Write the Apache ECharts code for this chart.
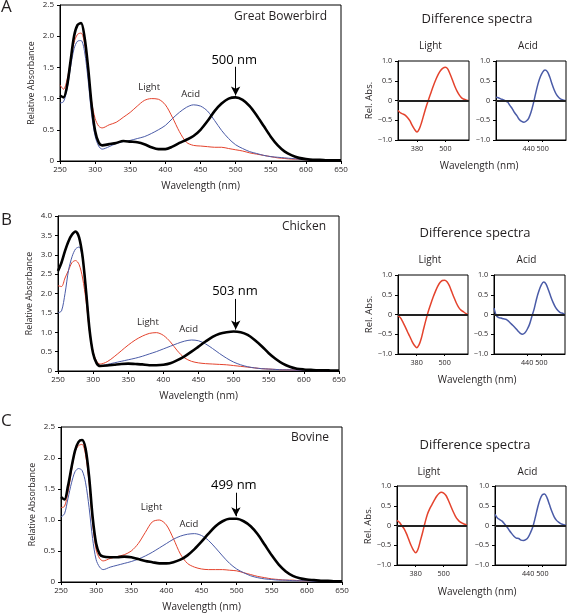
<!DOCTYPE html>
<html><head><meta charset="utf-8">
<script src="https://cdn.jsdelivr.net/npm/echarts@6/dist/echarts.min.js"></script>
<style>html,body{margin:0;padding:0;background:#fff}#c{width:567px;height:614px}</style>
</head><body><div id="c"></div>
<script>
// ---- Absorbance spectra wavelengths (nm) ----
const W = [250,255,260,265,270,275,280,285,290,295,300,305,310,320,330,340,350,360,370,380,390,400,410,420,430,440,450,460,470,480,490,500,510,520,530,540,550,560,570,580,590,600,610,620,630,640,650];

// Panel A: Great Bowerbird
const A_dark  = [1.05,1.02,1.2,1.6,2.0,2.18,2.21,1.98,1.5,0.9,0.48,0.3,0.25,0.27,0.29,0.32,0.31,0.3,0.27,0.22,0.19,0.19,0.23,0.29,0.34,0.4,0.5,0.64,0.8,0.92,1.0,1.02,0.98,0.88,0.73,0.56,0.39,0.25,0.15,0.09,0.05,0.03,0.02,0.02,0.01,0.01,0.01];
const A_light = [1.22,1.15,1.3,1.6,1.9,2.03,2.05,1.88,1.45,0.95,0.68,0.56,0.53,0.58,0.62,0.7,0.78,0.88,0.97,1.0,0.99,0.9,0.7,0.47,0.3,0.25,0.24,0.23,0.22,0.22,0.2,0.18,0.16,0.13,0.11,0.09,0.07,0.05,0.04,0.03,0.03,0.02,0.02,0.01,0.01,0.01,0.01];
const A_acid  = [0.93,0.95,1.15,1.5,1.8,1.92,1.93,1.75,1.3,0.75,0.4,0.24,0.19,0.23,0.28,0.31,0.33,0.36,0.39,0.44,0.5,0.57,0.68,0.78,0.86,0.9,0.88,0.8,0.65,0.49,0.36,0.26,0.2,0.15,0.12,0.09,0.07,0.06,0.05,0.04,0.03,0.02,0.02,0.02,0.01,0.01,0.01];

// Panel B: Chicken
const B_dark  = [2.58,2.8,3.1,3.35,3.52,3.6,3.45,2.95,2.05,1.05,0.45,0.2,0.13,0.14,0.16,0.18,0.19,0.18,0.17,0.15,0.15,0.16,0.2,0.28,0.38,0.5,0.63,0.76,0.88,0.96,1.0,1.02,1.0,0.93,0.8,0.64,0.46,0.31,0.19,0.11,0.06,0.04,0.03,0.02,0.02,0.01,0.01];
const B_light = [2.2,2.18,2.4,2.6,2.8,2.85,2.75,2.4,1.8,1.0,0.5,0.25,0.18,0.24,0.37,0.52,0.67,0.8,0.9,0.97,0.99,0.92,0.75,0.52,0.34,0.25,0.21,0.19,0.18,0.17,0.16,0.14,0.12,0.1,0.08,0.06,0.05,0.04,0.03,0.03,0.02,0.02,0.02,0.01,0.01,0.01,0.01];
const B_acid  = [1.5,1.55,2.0,2.6,2.95,3.15,3.2,2.9,2.1,1.1,0.45,0.18,0.13,0.17,0.21,0.25,0.29,0.33,0.38,0.44,0.5,0.57,0.64,0.71,0.77,0.8,0.78,0.7,0.58,0.45,0.33,0.23,0.16,0.11,0.08,0.06,0.05,0.04,0.03,0.03,0.02,0.02,0.02,0.01,0.01,0.01,0.01];

// Panel C: Bovine
const C_dark  = [1.37,1.33,1.55,1.85,2.12,2.26,2.29,2.15,1.7,1.05,0.62,0.45,0.41,0.4,0.4,0.41,0.4,0.37,0.34,0.32,0.3,0.3,0.32,0.36,0.43,0.53,0.65,0.78,0.9,0.98,1.02,1.02,0.98,0.9,0.77,0.6,0.43,0.28,0.17,0.1,0.06,0.04,0.03,0.02,0.02,0.01,0.01];
const C_light = [1.2,1.22,1.45,1.8,2.1,2.2,2.22,2.05,1.6,0.95,0.52,0.38,0.34,0.38,0.41,0.44,0.5,0.62,0.8,0.97,1.0,0.92,0.7,0.45,0.3,0.24,0.21,0.2,0.2,0.2,0.19,0.18,0.15,0.12,0.09,0.07,0.05,0.04,0.03,0.03,0.02,0.02,0.02,0.01,0.01,0.01,0.01];
const C_acid  = [1.05,1.1,1.35,1.6,1.78,1.83,1.8,1.6,1.2,0.7,0.36,0.24,0.2,0.24,0.27,0.3,0.33,0.37,0.42,0.48,0.55,0.62,0.69,0.74,0.77,0.78,0.75,0.67,0.55,0.42,0.3,0.21,0.15,0.1,0.07,0.05,0.04,0.03,0.03,0.02,0.02,0.02,0.01,0.01,0.01,0.01,0.01];

// ---- Difference spectra (nm) ----
const D = [300,310,320,330,340,350,360,370,380,390,400,410,420,430,440,450,460,470,480,490,500,510,520,530,540,550,560,570,580,590,600];
const A_diffLight = [-0.25,-0.31,-0.34,-0.37,-0.43,-0.51,-0.63,-0.73,-0.8,-0.72,-0.55,-0.34,-0.14,0.04,0.21,0.38,0.53,0.66,0.76,0.82,0.84,0.8,0.67,0.52,0.36,0.23,0.13,0.06,0.03,0.01,0];
const A_diffAcid  = [0.08,0.07,0.04,0.02,-0.01,-0.04,-0.13,-0.21,-0.31,-0.39,-0.48,-0.53,-0.55,-0.52,-0.45,-0.3,-0.08,0.18,0.42,0.6,0.72,0.77,0.73,0.6,0.42,0.26,0.14,0.07,0.03,0.01,0];
const B_diffLight = [-0.03,-0.08,-0.18,-0.3,-0.43,-0.55,-0.68,-0.78,-0.84,-0.77,-0.6,-0.36,-0.13,0.08,0.26,0.43,0.58,0.71,0.81,0.86,0.87,0.83,0.73,0.58,0.43,0.29,0.18,0.11,0.07,0.03,0];
const B_diffAcid  = [0.16,-0.03,-0.08,-0.09,-0.11,-0.12,-0.16,-0.22,-0.28,-0.34,-0.41,-0.47,-0.5,-0.47,-0.38,-0.25,-0.05,0.15,0.4,0.6,0.75,0.82,0.77,0.62,0.45,0.3,0.18,0.1,0.05,0.03,0.01];
const C_diffLight = [0.13,0.08,0,-0.08,-0.2,-0.35,-0.5,-0.62,-0.69,-0.6,-0.39,-0.17,0.07,0.28,0.42,0.53,0.64,0.74,0.81,0.84,0.82,0.76,0.64,0.5,0.36,0.24,0.15,0.09,0.06,0.03,0.01];
const C_diffAcid  = [0.28,0.19,0.15,0.11,0.04,-0.03,-0.12,-0.2,-0.27,-0.32,-0.33,-0.37,-0.38,-0.36,-0.3,-0.18,-0.03,0.2,0.45,0.66,0.78,0.8,0.7,0.53,0.36,0.22,0.13,0.08,0.04,0.02,0.01];

// ---- Labels / ticks ----
const panelLetters = ['A','B','C'];
const species = ['Great Bowerbird','Chicken','Bovine'];
const peaks = [500,503,499];
const mainYMax = [2.5,4.0,2.5];
const diffLightTicks = [380,500];
const diffAcidTicks = [440,500];

const RED = '#e4432d', BLUE = '#4a5ba7', INK = '#231f20';
const FONT = '"Open Sans", "Noto Sans", sans-serif';
const zip = (xs, ys) => xs.map((x, i) => [x, ys[i]]);

const mainLayout = [
  {grid:{left:60,top:5,width:281,height:156}, arrow:[1.51,1.05], textPos:[498,1.61], lightPos:[377,1.18], acidPos:[436,1.07], titleX:327, titleY:17, letterY:7},
  {grid:{left:58,top:216,width:281,height:155}, arrow:[1.86,1.07], textPos:[502,2.05], lightPos:[378,1.26], acidPos:[436,1.08], titleX:326, titleY:226.5, letterY:220},
  {grid:{left:61,top:427,width:281,height:155}, arrow:[1.44,1.06], textPos:[496,1.56], lightPos:[379,1.2], acidPos:[432,0.93], titleX:329, titleY:437.5, letterY:421}
];
const diffLayout = [
  {light:{left:398,top:61,width:71,height:79}, acid:{left:496,top:61,width:70,height:79}, headY:19.5, subY:46, xnameY:165.7, cx:477},
  {light:{left:398,top:275,width:70,height:79}, acid:{left:494,top:275,width:71,height:79}, headY:233, subY:260, xnameY:380, cx:475},
  {light:{left:397,top:486,width:70,height:79}, acid:{left:495,top:486,width:71,height:79}, headY:445.5, subY:472, xnameY:591.7, cx:475}
];
const mainData = [[A_dark,A_light,A_acid],[B_dark,B_light,B_acid],[C_dark,C_light,C_acid]];
const diffData = [[A_diffLight,A_diffAcid],[B_diffLight,B_diffAcid],[C_diffLight,C_diffAcid]];

const grid = [], xAxis = [], yAxis = [], series = [], title = [];
const lbl = {fontFamily: FONT, fontSize: 8, color: INK, hideOverlap: false, showMinLabel: true, showMaxLabel: true};
const lblS = Object.assign({}, lbl, {fontSize: 7.2});
const T = (text, x, y, size, align, extra) => Object.assign({
  text, left: x, top: y, padding: 0, textAlign: align || 'center', textVerticalAlign: 'middle',
  textStyle: {fontFamily: FONT, fontSize: size, fontWeight: 'normal', color: INK}
}, extra || {});

mainLayout.forEach((L, p) => {
  const gi = grid.length;
  grid.push(Object.assign({show:true, borderColor:'#000', borderWidth:1, backgroundColor:'transparent'}, L.grid));
  xAxis.push({type:'value', gridIndex:gi, min:250, max:650, interval:50,
    axisLine:{onZero:false, lineStyle:{color:'#000', width:1}}, axisTick:{length:3, lineStyle:{color:'#000'}},
    axisLabel:Object.assign({margin:5}, lbl), splitLine:{show:false},
    name:'Wavelength (nm)', nameLocation:'middle', nameGap:20, nameTextStyle:{fontFamily:FONT, fontSize:10, color:INK}});
  yAxis.push({type:'value', gridIndex:gi, min:0, max:mainYMax[p], interval:0.5,
    axisLine:{show:true, lineStyle:{color:'#000', width:1}}, axisTick:{show:true, length:3, lineStyle:{color:'#000'}},
    axisLabel:Object.assign({margin:6, formatter:v => v === 0 ? '0' : v.toFixed(1)}, lbl), splitLine:{show:false},
    name:'Relative Absorbance', nameLocation:'middle', nameGap:24, nameTextStyle:{fontFamily:FONT, fontSize:8.8, color:INK}});
  const [dark, light, acid] = mainData[p];
  const base = {type:'line', xAxisIndex:gi, yAxisIndex:gi, showSymbol:false, smooth:0.3, silent:true, animation:false};
  series.push(Object.assign({}, base, {data:zip(W, light), lineStyle:{color:RED, width:1}, itemStyle:{color:RED}}));
  series.push(Object.assign({}, base, {data:zip(W, acid), lineStyle:{color:BLUE, width:1}, itemStyle:{color:BLUE}}));
  series.push(Object.assign({}, base, {data:zip(W, dark), lineStyle:{color:'#000', width:2.6}, itemStyle:{color:'#000'},
    markLine:{silent:true, animation:false, symbol:['none','arrow'], symbolSize:[7,9],
      lineStyle:{color:'#000', width:1, type:'solid'}, label:{show:false},
      data:[[{coord:[peaks[p], L.arrow[0]]},{coord:[peaks[p], L.arrow[1]]}]]},
    markPoint:{silent:true, animation:false, symbol:'rect', symbolSize:1, itemStyle:{color:'rgba(0,0,0,0)'},
      data:[
        {coord:L.textPos, label:{show:true, position:'inside', formatter:peaks[p] + ' nm', fontFamily:FONT, fontSize:13, color:'#000'}},
        {coord:L.lightPos, label:{show:true, position:'inside', formatter:'Light', fontFamily:FONT, fontSize:9.5, color:INK}},
        {coord:L.acidPos, label:{show:true, position:'inside', formatter:'Acid', fontFamily:FONT, fontSize:9.5, color:INK}}
      ]}}));
  title.push(T(panelLetters[p], 1, L.letterY, 17, 'left'));
  title.push(T(species[p], L.titleX, L.titleY, 12, 'right'));
});

const yFmt = v => v === 0 ? '0' : (v < 0 ? '\u2212' + Math.abs(v).toFixed(1) : v.toFixed(1));
diffLayout.forEach((L, p) => {
  ['light','acid'].forEach((k, j) => {
    const gi = grid.length;
    grid.push(Object.assign({show:true, borderColor:'#000', borderWidth:1, backgroundColor:'transparent'}, L[k]));
    const ticks = j === 0 ? diffLightTicks : diffAcidTicks;
    xAxis.push({type:'value', gridIndex:gi, min:300, max:600, interval:20,
      axisLine:{onZero:false, lineStyle:{color:'#000'}},
      axisTick:{show:true, length:2, customValues:ticks, lineStyle:{color:'#000'}},
      axisLabel:Object.assign({margin:5, customValues:ticks, formatter:v => ticks.indexOf(v) >= 0 ? String(v) : ''}, lblS),
      splitLine:{show:false}});
    yAxis.push(Object.assign({type:'value', gridIndex:gi, min:-1, max:1, interval:0.5,
      axisLine:{show:true, lineStyle:{color:'#000'}}, axisTick:{show:true, length:3, lineStyle:{color:'#000'}},
      axisLabel:Object.assign({margin:6, formatter:yFmt}, lblS), splitLine:{show:false}},
      j === 0 ? {name:'Rel. Abs.', nameLocation:'middle', nameGap:22, nameTextStyle:{fontFamily:FONT, fontSize:9.5, color:INK}} : {}));
    const col = j === 0 ? RED : BLUE;
    series.push({type:'line', xAxisIndex:gi, yAxisIndex:gi, showSymbol:false, smooth:0.3, silent:true, animation:false,
      data:zip(D, diffData[p][j]), lineStyle:{color:col, width:1.5}, itemStyle:{color:col},
      markLine:{silent:true, animation:false, symbol:['none','none'], label:{show:false},
        lineStyle:{color:'#222', width:1.8, type:'solid'}, data:[{yAxis:0}]}});
    const g = L[k];
    title.push(T(j === 0 ? 'Light' : 'Acid', g.left + g.width / 2 - 3, L.subY, 10));
  });
  title.push(T('Difference spectra', L.cx, L.headY, 13));
  title.push(T('Wavelength (nm)', L.cx + 2, L.xnameY, 10));
});

const chart = echarts.init(document.getElementById('c'), null, {renderer:'canvas'});
chart.setOption({animation:false, backgroundColor:'#fff', title, grid, xAxis, yAxis, series});
</script>
</body></html>
